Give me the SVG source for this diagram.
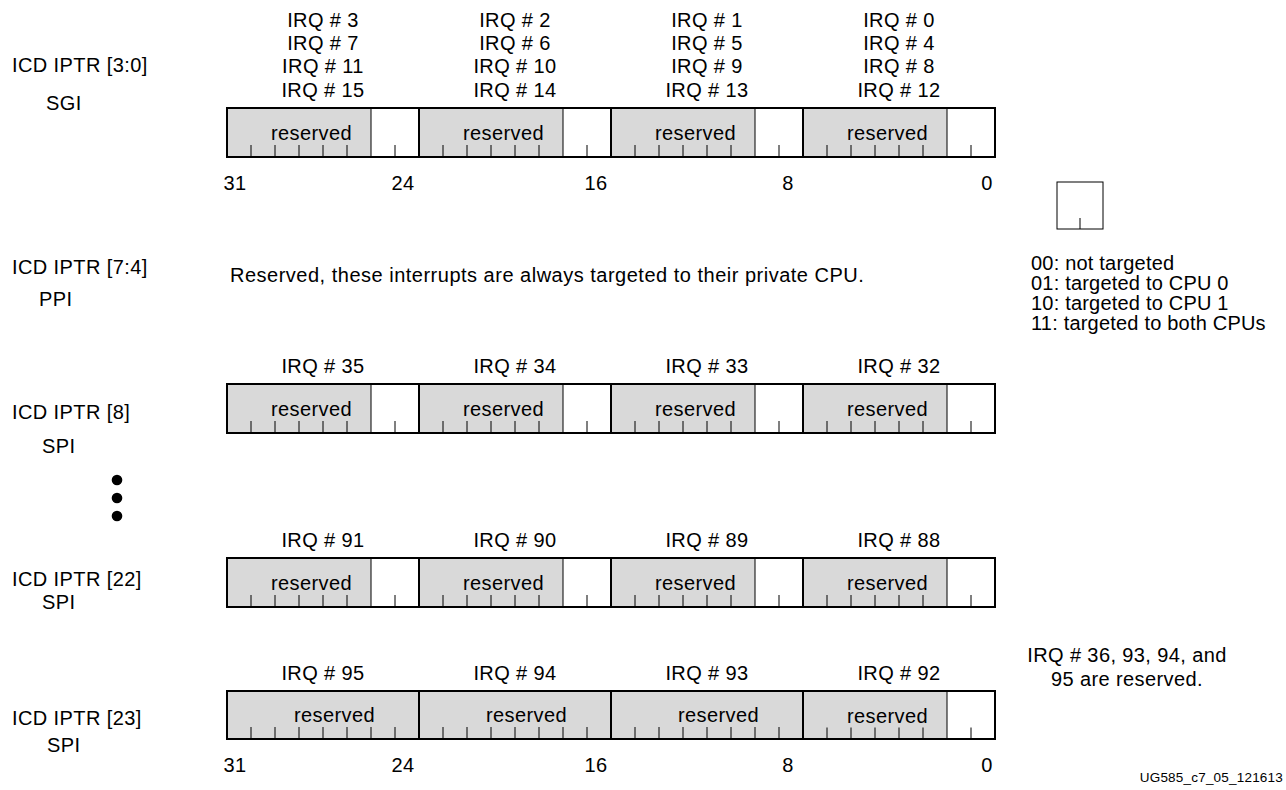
<svg xmlns="http://www.w3.org/2000/svg" width="1286" height="790" viewBox="0 0 1286 790">
<style>
text{font-family:"Liberation Sans",Arial,sans-serif;font-size:20px;fill:#000;letter-spacing:0.4px}
.c{text-anchor:middle}
.lg{letter-spacing:0.2px}
.sh{fill:#d9d9d9;stroke:none}
.box{fill:none;stroke:#000;stroke-width:2}
.div{stroke:#000;stroke-width:2}
.thin{stroke:#000;stroke-width:1}
.tk{stroke:#000;stroke-width:1}
</style>
<defs>
<g id="b62">
<rect class="sh" x="0" y="0" width="144" height="49"/>
<line class="thin" x1="144" y1="0" x2="144" y2="49"/>
<path class="tk" d="M24 37V49M48 37V49M72 37V49M96 37V49M120 37V49M168 37V49"/>
<text x="44" y="32">reserved</text>
</g>
<g id="b8">
<rect class="sh" x="0" y="0" width="192" height="48"/>
<path class="tk" d="M24 36V48M48 36V48M72 36V48M96 36V48M120 36V48M144 36V48M168 36V48"/>
<text x="67" y="31">reserved</text>
</g>
</defs>

<g id="labels-left">
<text x="12" y="72">ICD IPTR [3:0]</text>
<text x="46" y="110">SGI</text>
<text x="12" y="274">ICD IPTR [7:4]</text>
<text x="39" y="306">PPI</text>
<text x="12" y="419">ICD IPTR [8]</text>
<text x="42" y="453">SPI</text>
<text x="12" y="586">ICD IPTR [22]</text>
<text x="42" y="609">SPI</text>
<text x="12" y="725">ICD IPTR [23]</text>
<text x="47" y="752">SPI</text>
</g>

<g id="dots">
<circle cx="117" cy="480" r="5.3"/>
<circle cx="117" cy="498" r="5.3"/>
<circle cx="117" cy="516" r="5.3"/>
</g>

<g id="reg-sgi">
<g class="c">
<text x="323" y="27">IRQ # 3</text><text x="323" y="50">IRQ # 7</text><text x="323" y="73">IRQ # 11</text><text x="323" y="97">IRQ # 15</text>
<text x="515" y="27">IRQ # 2</text><text x="515" y="50">IRQ # 6</text><text x="515" y="73">IRQ # 10</text><text x="515" y="97">IRQ # 14</text>
<text x="707" y="27">IRQ # 1</text><text x="707" y="50">IRQ # 5</text><text x="707" y="73">IRQ # 9</text><text x="707" y="97">IRQ # 13</text>
<text x="899" y="27">IRQ # 0</text><text x="899" y="50">IRQ # 4</text><text x="899" y="73">IRQ # 8</text><text x="899" y="97">IRQ # 12</text>
</g>
<use href="#b62" x="227" y="108"/><use href="#b62" x="419" y="108"/><use href="#b62" x="611" y="108"/><use href="#b62" x="803" y="108"/>
<rect class="box" x="227" y="108" width="768" height="49"/>
<path class="div" d="M419 108V157M611 108V157M803 108V157"/>
<text class="c" x="235" y="190">31</text><text class="c" x="403" y="190">24</text><text class="c" x="596" y="190">16</text><text class="c" x="788" y="190">8</text><text class="c" x="987" y="190">0</text>
</g>

<g id="ppi-note">
<text x="230" y="282" style="letter-spacing:0.5px">Reserved, these interrupts are always targeted to their private CPU.</text>
</g>

<g id="legend">
<rect x="1057" y="182" width="46" height="47" fill="none" stroke="#000" stroke-width="1"/>
<line class="tk" x1="1080" y1="218" x2="1080" y2="229"/>
<text class="lg" x="1031" y="270">00: not targeted</text>
<text class="lg" x="1031" y="290">01: targeted to CPU 0</text>
<text class="lg" x="1031" y="310">10: targeted to CPU 1</text>
<text class="lg" x="1031" y="330">11: targeted to both CPUs</text>
</g>

<g id="reg-spi8">
<g class="c"><text x="323" y="373">IRQ # 35</text><text x="515" y="373">IRQ # 34</text><text x="707" y="373">IRQ # 33</text><text x="899" y="373">IRQ # 32</text></g>
<use href="#b62" x="227" y="384"/><use href="#b62" x="419" y="384"/><use href="#b62" x="611" y="384"/><use href="#b62" x="803" y="384"/>
<rect class="box" x="227" y="384" width="768" height="49"/>
<path class="div" d="M419 384V433M611 384V433M803 384V433"/>
</g>

<g id="reg-spi22">
<g class="c"><text x="323" y="547">IRQ # 91</text><text x="515" y="547">IRQ # 90</text><text x="707" y="547">IRQ # 89</text><text x="899" y="547">IRQ # 88</text></g>
<use href="#b62" x="227" y="558"/><use href="#b62" x="419" y="558"/><use href="#b62" x="611" y="558"/><use href="#b62" x="803" y="558"/>
<rect class="box" x="227" y="558" width="768" height="49"/>
<path class="div" d="M419 558V607M611 558V607M803 558V607"/>
</g>

<g id="reg-spi23">
<g class="c"><text x="323" y="680">IRQ # 95</text><text x="515" y="680">IRQ # 94</text><text x="707" y="680">IRQ # 93</text><text x="899" y="680">IRQ # 92</text></g>
<use href="#b8" x="227" y="691"/><use href="#b8" x="419" y="691"/><use href="#b8" x="611" y="691"/>
<use href="#b62" x="803" y="690.5"/>
<rect class="box" x="227" y="691" width="768" height="48"/>
<path class="div" d="M419 691V739M611 691V739M803 691V739"/>
<text class="c" x="235" y="772">31</text><text class="c" x="403" y="772">24</text><text class="c" x="596" y="772">16</text><text class="c" x="788" y="772">8</text><text class="c" x="987" y="772">0</text>
</g>

<g id="reserved-note">
<text class="c" x="1127" y="662">IRQ # 36, 93, 94, and</text>
<text class="c" x="1127" y="686">95 are reserved.</text>
</g>

<g id="footer">
<text x="1283" y="782" text-anchor="end" style="font-size:13.5px;letter-spacing:0.2px">UG585_c7_05_121613</text>
</g>
</svg>
